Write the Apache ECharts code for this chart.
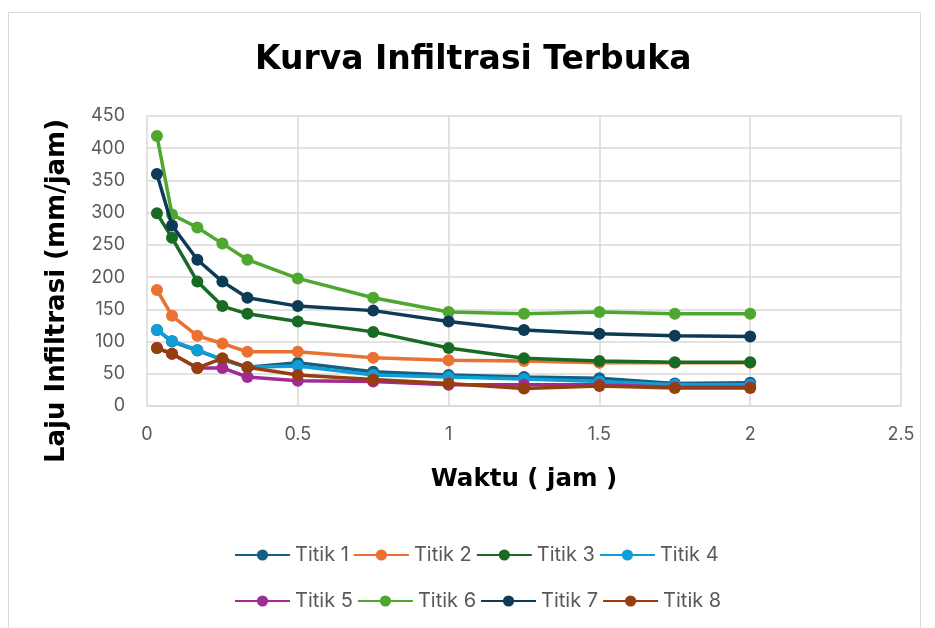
<!DOCTYPE html>
<html>
<head>
<meta charset="utf-8">
<script src="https://cdn.jsdelivr.net/npm/echarts@6/dist/echarts.min.js"></script>
<style>html,body{margin:0;padding:0;background:#fff}#c{width:935px;height:628px}</style>
</head>
<body>
<div id="c"></div>
<script>
const waktu = [0.033, 0.083, 0.167, 0.25, 0.333, 0.5, 0.75, 1, 1.25, 1.5, 1.75, 2];
const titik1 = [118, 100, 86, 72, 60, 67, 53, 48, 45, 43, 35, 36];
const titik2 = [180, 140, 109, 97, 84, 84, 75, 71, 70, 67, 67, 67];
const titik3 = [299, 261, 193, 155, 143, 131, 115, 90, 74, 70, 68, 68];
const titik4 = [118, 101, 87, 72, 60, 62, 48, 45, 42, 38, 33, 33];
const titik5 = [90, 81, 59, 59, 45, 39, 38, 33, 33, 33, 29, 29];
const titik6 = [419, 297, 277, 252, 227, 198, 168, 146, 143, 146, 143, 143];
const titik7 = [360, 280, 227, 193, 168, 155, 148, 131, 118, 112, 109, 108];
const titik8 = [90, 81, 59, 74, 60, 48, 41, 35, 27, 31, 28, 28];
const names = ['Titik 1','Titik 2','Titik 3','Titik 4','Titik 5','Titik 6','Titik 7','Titik 8'];
const colors = ['#156082','#E97132','#196B24','#0F9ED5','#A02B93','#4EA72E','#0D3A55','#973E0F'];
const yTicks = [0,50,100,150,200,250,300,350,400,450];
const xTicks = [0,0.5,1,1.5,2,2.5];
const all = [titik1,titik2,titik3,titik4,titik5,titik6,titik7,titik8];

const chart = echarts.init(document.getElementById('c'));
const legendStyle = {fontSize: 20, color: '#595959', fontFamily: 'Inter'};
chart.setOption({
  animation: false,
  textStyle: {fontFamily: 'Inter'},
  title: {
    text: 'Kurva Infiltrasi Terbuka', left: 250, top: 39,
    textStyle: {fontSize: 33, fontWeight: 'bold', color: '#000', fontFamily: 'DejaVu Sans'}
  },
  graphic: [
    {type: 'rect', shape: {x: 8.5, y: 12.5, width: 912, height: 640}, style: {fill: 'none', stroke: '#d9d9d9', lineWidth: 1}, silent: true},
    {type: 'text', x: 57, y: 291, rotation: Math.PI/2,
     style: {text: 'Laju Infiltrasi (mm/jam)', fontSize: 26, fontWeight: 'bold', fill: '#000', fontFamily: 'DejaVu Sans', align: 'center', verticalAlign: 'middle'}}
  ],
  grid: {left: 147, right: 34, top: 116, bottom: 222, containLabel: false},
  xAxis: {
    type: 'value', min: 0, max: 2.5, interval: 0.5,
    name: 'Waktu ( jam )', nameLocation: 'middle', nameGap: 61,
    nameTextStyle: {fontSize: 24.5, fontWeight: 'bold', color: '#000', fontFamily: 'DejaVu Sans'},
    axisLine: {show: true, lineStyle: {color: '#d9d9d9', width: 1.5}},
    axisTick: {show: false},
    axisLabel: {fontSize: 18, color: '#595959', margin: 20, formatter: v => String(v)},
    splitLine: {show: true, lineStyle: {color: '#d9d9d9', width: 1.5}}
  },
  yAxis: {
    type: 'value', min: 0, max: 450, interval: 50,
    axisLine: {show: false}, axisTick: {show: false},
    axisLabel: {fontSize: 18, color: '#595959', margin: 22},
    splitLine: {show: true, lineStyle: {color: '#d9d9d9', width: 1.5}}
  },
  legend: [
    {data: names.slice(0,4), top: 540, left: 229, itemWidth: 55, itemHeight: 14, itemGap: 4, textStyle: legendStyle},
    {data: names.slice(4,8), top: 586, left: 229, itemWidth: 55, itemHeight: 14, itemGap: 4, textStyle: legendStyle}
  ],
  series: all.map((arr, i) => ({
    name: names[i], type: 'line',
    data: waktu.map((x, j) => [x, arr[j]]),
    symbol: 'circle', symbolSize: 12,
    lineStyle: {width: 3.5, color: colors[i]},
    itemStyle: {color: colors[i]},
    z: 2 + i
  }))
});
</script>
</body>
</html>
